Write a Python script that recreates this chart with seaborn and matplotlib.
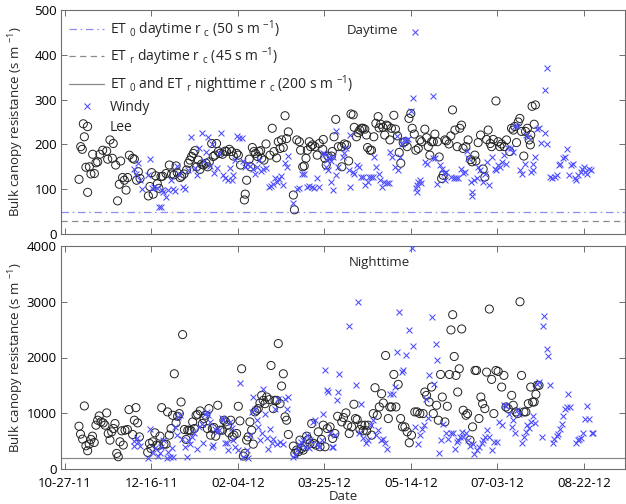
import numpy as np
import pandas as pd
import matplotlib
matplotlib.use("Agg")
import matplotlib.pyplot as plt
import seaborn as sns
from matplotlib.lines import Line2D

# ---------------- data (days since 10-27-11, values in s m^-1) ----------------
START = "2011-10-27"
tick_labels = ["10-27-11", "12-16-11", "02-04-12", "03-25-12", "05-14-12", "07-03-12", "08-22-12"]

et0_day_rc = 50      # ET0 daytime rc line
etr_day_rc = 30      # ETr daytime rc line (as drawn)
night_rc = 200       # nighttime rc line

# Daytime, Lee
lee_day_d = [
    8.1, 9.1, 10, 10.6, 11.2, 12.1, 13.1, 14.1, 15, 16,
    17, 17.9, 18.9, 20.2, 21.8, 24.1, 24.7, 26, 27.4, 27.9,
    29.3, 30.4, 31.4, 32.2, 33.3, 34.3, 35.3, 36.2, 37.2, 39.1,
    40.1, 41.4, 42.4, 43.4, 48.2, 49.1, 50.1, 51, 52.4, 53.4,
    54.3, 55.5, 56.4, 58.4, 60.3, 61.6, 63, 64.2, 64.9, 66.5,
    67.4, 68.8, 70.3, 71.3, 72.2, 73.2, 74.2, 75.1, 76.1, 77.1,
    78, 79, 80, 81.5, 82.5, 83.4, 84.8, 85.7, 86.7, 87.6,
    88.6, 89.6, 91.1, 92.5, 93.4, 95, 96.3, 97.3, 99.2, 100.2,
    101.5, 103.7, 104.2, 105, 106.5, 107.3, 108.3, 109.2, 110.2, 111.3,
    112.1, 113.1, 113.7, 115, 116.2, 118.5, 119.8, 120.8, 122.3, 123.3,
    124.3, 125.2, 126.2, 127.2, 128.1, 129.1, 132, 132.6, 134, 135.5,
    136.2, 137.4, 138.3, 139.3, 140.1, 141.2, 142, 143.1, 144.5, 145.8,
    147,
    149, 149.3, 150.2, 151, 152, 154, 154.5, 155.5, 156.5, 158,
    159.9, 160, 161.5, 162.8, 164, 165.3, 166.6, 167.2, 168.5, 169.5,
    170.4, 171.4, 172.3, 173.3, 174.3, 174.9, 176.3, 177.2, 178.5, 179.7,
    181, 181.6, 182.5, 183.8, 184.8, 185.8, 186.7, 187.8, 188.7, 190.1,
    191, 192.2, 193.2, 194.1, 195.5, 196.5, 197.8, 198.8, 199.9, 200.7,
    201.9, 202.8, 204.2, 205.2, 206.1, 208, 209, 210, 210.9, 211.9,
    212.9, 213.8, 215.3, 216.3, 217.7, 218.6, 219.6, 220.5, 221.9, 223,
    224, 225.4, 226.7, 228.2, 229.2, 230.1, 231.7, 233, 234.4, 235.3,
    236.9, 237.5, 238.8, 240.2, 241.7, 242.7, 243.7, 244.6, 245.8, 246.6,
    247.5, 249.1, 250.4, 251.4, 252.3, 253.9, 255.2, 257.1, 258.1, 259.1,
    260, 261, 262, 262.9, 263.9, 265.2, 266.2, 267.3, 268.3, 269,
    269.2, 270, 271.2, 271.9,
]
lee_day_v = [
    122, 195, 189, 246, 217, 149, 93, 150, 134, 178,
    135, 159, 161, 178, 187, 185, 167, 210, 169, 202,
    154, 74, 111, 163, 126, 120, 98, 126, 176, 169,
    167, 120, 139, 124, 85, 106, 137, 89, 130, 112,
    102, 128, 129, 135, 154, 134, 132, 152, 137, 126,
    129, 134, 143, 158, 165, 173, 180, 186, 150, 165,
    144, 156, 154, 158, 150, 161, 202, 173, 176, 202,
    184, 180, 178, 185, 184, 189, 184, 174, 180, 176,
    154, 76, 89, 120, 167, 150, 193, 184, 180, 173,
    184, 186, 169, 165, 201, 176, 236, 184, 170, 206,
    191, 210, 193, 264, 213, 228, 87, 54, 210, 206,
    187, 150, 152, 169, 187, 206, 195, 199, 195, 176,
    202,
    189, 211, 169, 154, 174, 174, 184, 217, 256, 195,
    195, 150, 201, 199, 163, 268, 266, 238, 217, 226,
    232, 236, 236, 234, 221, 193, 187, 187, 217, 247,
    262, 237, 245, 238, 221, 243, 241, 210, 236, 265,
    234, 219, 182, 158, 204, 206, 195, 258, 269, 236,
    223, 187, 191, 210, 206, 234, 215, 195, 176, 206,
    206, 223, 206, 172, 124, 131, 210, 208, 201, 219,
    277, 232, 195, 236, 243, 191, 195, 210, 166, 161,
    176, 163, 204, 221, 145, 127, 211, 232, 202, 195,
    211, 297, 206, 195, 201, 195, 210, 184, 236, 232,
    240, 204, 250, 258, 229, 174, 229, 236, 210, 199,
    221, 285, 245, 288,
]

# Daytime, Windy
windy_day_d = [
    39.9, 41, 42.4, 43.4, 44.3, 48.2, 49.1, 50.1, 51.4, 53,
    54.5, 55.3, 55.8, 56.8, 58.4, 59.7, 61.3, 62.2, 63.6, 64.9,
    66.1, 68, 69.4, 71.3, 72.8, 75.1, 76.1, 77.6, 79, 80.5,
    81.5, 82.9, 83.8, 85.2, 86.3, 87.6, 88.9, 90.2, 91.5, 92.5,
    94.4, 95.4, 96.3, 97.3, 98.3, 99.2, 100.8, 102.1, 102.7, 104,
    105.4, 106.9, 108.5, 109.8, 110.8, 112.3, 113.3, 114.6, 116.2, 118.1,
    119, 120.4, 121.4, 122.7, 123.9, 124.7, 125.9, 127.2, 128.1, 129.1,
    132, 134.3, 135.5, 136.8, 138.3, 139.7, 141.2, 142.6, 143.9, 145.5,
    147,
    149.3, 150.2, 151, 151.5, 152, 152.6, 154, 154, 154.9, 154.9,
    156.4, 156.9, 157.7, 160.6, 161.5, 162.5, 164, 164.6, 164.8, 166.4,
    167.3, 168.6, 169.8, 171.1, 172.5, 173.6, 175, 176, 176.9, 177.9,
    178.8, 179.8, 181.3, 182.3, 183.2, 184.6, 185.9, 187, 188, 189.3,
    190.7, 191.8, 192.7, 193.7, 194.6, 196, 197.4, 198.5, 199.8, 201.2,
    202.6, 202.7, 203.2, 203.6, 204.2, 205.2, 205.7, 208, 209, 212.9,
    212.9, 213.8, 215.3, 216.7, 217.7, 219, 219.6, 220.5, 223.4, 225,
    226.3, 227.3, 228.8, 229.8, 231.2, 232.1, 233, 234.6, 235, 235.4,
    236.6, 238, 239, 239.9, 241.4, 242.7, 243.7, 245.2, 246.6, 248.4,
    249.3, 250.4, 251.4, 252.7, 253.9, 255.2, 256.2, 257.7, 259.1, 260,
    261, 262.9, 264.2, 265.7, 266.7, 267.7, 269.2, 270.5, 270.5, 271.9,
    273, 274, 275.3, 277.3, 277.3, 278.6, 278.8, 280.1, 281.5, 283,
    284.6, 285.5, 285.9, 287.9, 288.8, 290.3, 291.1, 292.7, 293.6, 294.6,
    295.5, 296.5, 298, 298.8, 300, 300.7, 301.9, 302.7, 303.8,
]
windy_day_v = [
    144, 135, 159, 120, 100, 132, 167, 102, 106, 102,
    61, 60, 98, 94, 82, 98, 120, 100, 97, 152,
    135, 104, 100, 143, 217, 147, 132, 191, 226, 163,
    184, 216, 152, 202, 137, 147, 180, 226, 132, 126,
    120, 147, 120, 132, 165, 219, 214, 214, 164, 149,
    156, 152, 144, 135, 150, 165, 141, 144, 147, 106,
    107, 112, 126, 117, 122, 129, 109, 159, 149, 173,
    70, 100, 102, 135, 135, 106, 107, 104, 102, 126,
    106,
    181, 178, 150, 166, 143, 172, 164, 117, 172, 98,
    131, 230, 150, 172, 180, 191, 143, 221, 105, 139,
    135, 154, 150, 128, 128, 109, 116, 128, 128, 128,
    172, 150, 135, 120, 104, 116, 114, 113, 184, 172,
    150, 219, 143, 172, 202, 210, 210, 211, 274, 303,
    452, 102, 94, 109, 116, 120, 113, 161, 157, 309,
    169, 169, 111, 154, 146, 137, 120, 139, 128, 126,
    124, 124, 144, 137, 139, 185, 169, 116, 85, 94,
    120, 124, 150, 143, 116, 135, 161, 109, 172, 146,
    143, 154, 150, 161, 176, 157, 191, 191, 184, 241,
    240, 143, 135, 157, 221, 217, 139, 157, 143, 172,
    234, 236, 204, 226, 322, 370, 201, 128, 124, 128,
    131, 154, 157, 169, 172, 189, 131, 154, 157, 124,
    120, 131, 139, 146, 150, 139, 135, 146, 143,
]

# Nighttime, Lee
lee_night_d = [
    8.1, 9, 10.2, 11.2, 12.1, 13.1, 14, 15, 15.9, 16.9,
    17.9, 18.9, 19.8, 20.8, 22.1, 23.1, 24.1, 25, 26, 27,
    28, 28.9, 29.9, 30.8, 31.8, 32.8, 33.7, 34.7, 36.1, 37,
    39.1, 40.1, 41, 42, 43, 47.8, 48.8, 49.7, 50.7, 52,
    53, 54, 54.9, 55.9, 57.2, 58.4, 59.3, 60.3, 61.3, 62.2,
    63.2, 64.2, 65.1, 66.1, 67.1, 68, 69, 70, 71, 71.9,
    72.9, 73.8, 74.8, 75.8, 76.7, 78.1, 79.4, 80.4, 81.3, 82.3,
    83.2, 84.2, 85.2, 86.1, 87.1, 88.3, 89.6, 91, 91.9, 92.9,
    93.9, 94.8, 95.8, 96.7, 97.7, 99.2, 100.2, 101.1, 102.1, 103.1,
    104, 105, 105.9, 106.9, 107.9, 108.8, 109.8, 110.8, 111.7, 112.7,
    113.7, 114.6, 115.6, 116.6, 118.1, 119.1, 120.4, 121.4, 122.4, 123.3,
    124.3, 125.2, 126.2, 127.2, 128.1, 129.1, 132, 132.9, 133.9, 134.9,
    135.8, 136.8, 137.7, 138.7, 139.7, 140.6, 141.6, 142.6, 143.9, 145,
    146.4, 147.4, 148.3, 149.3, 150.3, 151.6, 153.2, 154.7, 156, 157.6,
    160, 161, 162.4, 163.4, 164.3, 165.7, 167, 167.9, 168.9, 170.5,
    171.5, 172.4, 173.4, 174.4, 175.3, 177.3, 178.2, 179.2, 180.5, 181.7,
    183, 184, 185.3, 186.9, 187.8, 188.8, 190.1, 191.3, 192.6, 194,
    195.1, 196.5, 197.8, 199, 200.3, 202.2, 203.6, 205.1, 207, 208,
    209, 210.5, 211.9, 212.9, 214.8, 215.8, 217.1, 218.1, 219.6, 221,
    222.2, 223.1, 224.1, 225, 226, 227, 227.9, 229.3, 230.2, 231.8,
    232.7, 234.1, 235.6, 237, 237.9, 239.3, 240.4, 241.4, 242.7, 243.7,
    245.3, 246.6, 247.9, 249.1, 250.4, 252.4, 253.7, 254.9, 256.2, 258.2,
    259.1, 260.7, 261.6, 263, 263.9, 265.3, 266.4, 267.8, 269.2, 270.3,
    271.2, 272.2, 273, 274,
]
lee_night_v = [
    768, 625, 536, 1131, 417, 327, 446, 530, 589, 476,
    786, 875, 952, 845, 827, 786, 1006, 637, 518, 667,
    726, 815, 280, 220, 488, 685, 429, 696, 708, 1065,
    619, 875, 1101, 827, 577, 298, 458, 369, 488, 649,
    429, 417, 589, 1101, 446, 446, 1024, 607, 726, 964,
    1708, 827, 946, 994, 1202, 2411, 708, 530, 696, 696,
    685, 845, 726, 964, 982, 1042, 815, 905, 964, 726,
    1083, 607, 726, 744, 589, 1143, 696, 696, 875, 845,
    786, 649, 875, 577, 607, 637, 1125, 863, 1798, 232,
    280, 518, 577, 845, 696, 446, 1024, 1054, 1083, 1184,
    1321, 1232, 1172, 1291, 1244, 1857, 1083, 1232, 1232, 2250,
    1172, 1488, 1708, 935, 875, 619, 411, 280, 339, 310,
    518, 369, 339, 399, 589, 530, 458, 815, 458, 429,
    667, 399, 530, 786, 399, 726, 756, 548, 637, 946,
    845, 923, 1006, 786, 637, 756, 1161, 905, 887, 708,
    786, 685, 786, 685, 786, 607, 994, 1458, 964, 1113,
    1351, 1184, 2036, 905, 1113, 1113, 1696, 1113, 1518, 905,
    756, 756, 667, 470, 607, 1024, 1024, 994, 994, 1381,
    1321, 1202, 1470, 994, 1143, 875, 1696, 1291, 845, 1125,
    1696, 2494, 2768, 2018, 1679, 1381, 1798, 2512, 1054, 964,
    994, 518, 756, 1768, 1768, 905, 1291, 1172, 1083, 1738,
    2869, 1607, 994, 1768, 1750, 1470, 1679, 1113, 1083, 1321,
    1143, 1024, 994, 3000, 1679, 1024, 1024, 1172, 1470, 1202,
    1202, 1339, 1500, 1500,
]

# Nighttime, Windy
windy_night_d = [
    40.1, 40.1, 41.4, 42.4, 43.4, 48.2, 49.3, 51, 52, 54,
    54.9, 55.5, 56.9, 58.8, 59.7, 60.7, 61.6, 62.6, 63.5, 64.5,
    65.4, 66.3, 67.9, 69.4, 70.3, 71.3, 72.2, 73.6, 74.6, 76.1,
    77.6, 79, 79.9, 80.9, 81.9, 82.8, 83.8, 84.7, 85.7, 86.7,
    87.6, 89.2, 90.5, 91.5, 92.5, 93.4, 94.4, 95.4, 96.3, 97.3,
    98.3, 99.8, 101.1, 103.1, 105, 105.9, 106.9, 107.9, 108.8, 109.8,
    110.8, 111.7, 112.7, 113.7, 114.6, 115.6, 116.6, 117.5, 118.5, 119.5,
    120.4, 121.4, 122.4, 123.3, 124.3, 125.8, 127.2, 128.1, 129.1, 131.6,
    132.9, 134.3, 135.4, 136.4, 137.7, 138.7, 139.7, 141, 141.9, 143.1,
    144.5, 145.8, 147, 148.3, 149.3, 150.3, 151.2, 152.2, 153.2, 154.1,
    155.1, 156, 157, 157.6, 158.4, 164.3, 168.2, 169.2, 170.1, 171.1,
    172.4, 174, 175.3, 176.7, 178.2, 179.7, 181.1, 182.5, 183.6, 185,
    186.3, 187.8, 189.4, 190.7, 192, 193.2, 194.6, 195.5, 197.1, 199,
    200.4, 200.9, 202.2, 203.8, 205.1, 206.5, 207.6, 208.6, 209.6, 210.5,
    211.9, 213.3, 214.4, 215.2, 216.4, 217.1, 218.7, 220.2, 221.6, 222.9,
    224.5, 225.4, 226.4, 227.4, 228.3, 229.3, 230.2, 231.8, 232.7, 234.1,
    235.6, 236.6, 237.9, 239.5, 240.8, 241.8, 242.7, 243.7, 245.3, 246.6,
    247.9, 249.5, 251, 252.4, 253.7, 255.2, 256.8, 258.2, 259.1, 260.1,
    261.1, 262.6, 263.9, 265.3, 266.4, 267.2, 268.4, 269.4, 270.7, 271.7,
    273, 274.2, 275.5, 276.1, 277.1, 278.4, 279.4, 280.4, 281.9, 282.9,
    284.2, 285.2, 286.2, 287.1, 288.1, 289, 290, 291, 291.9, 295.4,
    296.4, 297.3, 298.3, 299.6, 300.6, 301.6, 303.1, 304.5, 305.4,
]
windy_night_v = [
    500, 411, 548, 488, 411, 190, 726, 280, 369, 232,
    280, 387, 518, 190, 310, 220, 369, 220, 756, 607,
    935, 964, 530, 387, 220, 518, 446, 577, 637, 351,
    756, 804, 458, 994, 1024, 964, 845, 399, 429, 726,
    667, 696, 923, 875, 458, 458, 339, 845, 744, 518,
    387, 339, 1547, 220, 339, 190, 607, 1024, 1291, 1083,
    875, 756, 518, 637, 1428, 994, 548, 351, 726, 458,
    530, 1083, 446, 1261, 488, 446, 1261, 1083, 1291, 220,
    250, 339, 429, 488, 518, 399, 607, 369, 518, 845,
    875, 446, 399, 518, 994, 1768, 1410, 1381, 637, 399,
    399, 607, 1232, 1381, 1708, 2571, 1500, 2988, 649, 1172,
    548, 458, 518, 786, 875, 607, 708, 518, 530, 470,
    351, 1339, 1339, 1470, 2095, 2810, 1738, 1768, 2036, 2500,
    3970, 2208, 756, 446, 607, 726, 786, 1261, 923, 1679,
    2720, 1518, 2238, 1952, 292, 518, 815, 637, 530, 637,
    637, 351, 488, 518, 577, 667, 577, 637, 518, 411,
    446, 268, 339, 399, 458, 518, 577, 696, 577, 339,
    488, 488, 845, 786, 1143, 1125, 994, 756, 875, 649,
    1054, 994, 458, 577, 667, 786, 744, 845, 946, 827,
    1518, 1560, 577, 2571, 2738, 2155, 2024, 1500, 458, 530,
    589, 625, 726, 815, 946, 1083, 1113, 1339, 1113, 458,
    518, 530, 548, 637, 905, 1125, 905, 637, 649,
]

# ---------------- helpers ----------------
t0 = pd.Timestamp(START)


def frame(days, vals):
    n = min(len(days), len(vals))
    return pd.DataFrame({
        "date": t0 + pd.to_timedelta(np.asarray(days[:n], float), unit="D"),
        "rc": np.asarray(vals[:n], float),
    })


lee_day = frame(lee_day_d, lee_day_v)
windy_day = frame(windy_day_d, windy_day_v)
lee_night = frame(lee_night_d, lee_night_v)
windy_night = frame(windy_night_d, windy_night_v)

# ---------------- style ----------------
sns.set_theme(style="white")
FONT = ["Open Sans", "DejaVu Sans"]
plt.rcParams["font.family"] = FONT
plt.rcParams["mathtext.fontset"] = "custom"
plt.rcParams["mathtext.rm"] = "Open Sans"
plt.rcParams["mathtext.it"] = "Open Sans"
plt.rcParams["mathtext.default"] = "regular"

SPINE = "#6e6e6e"
WINDY = "#4b4bff"
LINEBLUE = "#8c8cf2"
LINEGRAY = "#8a8a8a"
FS = 9.5

fig = plt.figure(figsize=(6.26, 5.04), dpi=100)
W, H = 626.0, 504.0
ax1 = fig.add_axes([61 / W, 1 - 234 / H, (625 - 61) / W, (234 - 10) / H])
ax2 = fig.add_axes([61 / W, 1 - 469 / H, (625 - 61) / W, (469 - 246) / H])

xmin = t0 + pd.Timedelta(days=-2.3)
xmax = t0 + pd.Timedelta(days=323.7)
tick_dates = pd.to_datetime(tick_labels, format="%m-%d-%y")

for ax in (ax1, ax2):
    sns.scatterplot(data=windy_day if ax is ax1 else windy_night, x="date", y="rc",
                    ax=ax, marker="x", color=WINDY, s=18, linewidth=0.75, zorder=3)
    sns.scatterplot(data=lee_day if ax is ax1 else lee_night, x="date", y="rc",
                    ax=ax, marker="o", facecolor="none", edgecolor="#222222",
                    s=34, linewidth=0.7, zorder=2)
    ax.set_xlim(xmin, xmax)
    ax.set_xticks(tick_dates)
    for s in ax.spines.values():
        s.set_visible(True)
        s.set_color(SPINE)
        s.set_linewidth(0.8)
    ax.tick_params(direction="in", length=4, width=0.7, color=SPINE,
                   top=True, right=True, bottom=True, left=True,
                   labelsize=FS, labelcolor="black", pad=3)
    ax.set_ylabel("Bulk canopy resistance (s m $^{-1}$)", fontsize=FS)
    ax.yaxis.set_label_coords(-0.062, 0.5)
    ax.grid(False)

ax2.tick_params(axis="x", pad=6)

# daytime panel
ax1.axhline(et0_day_rc, color=LINEBLUE, linestyle=(0, (6, 3, 1.2, 3)), linewidth=0.9, zorder=1)
ax1.axhline(etr_day_rc, color=LINEGRAY, linestyle=(0, (5, 3.5)), linewidth=0.9, zorder=1)
ax1.set_ylim(0, 500)
ax1.set_yticks([0, 100, 200, 300, 400, 500])
ax1.set_xticklabels([])
ax1.set_xlabel("")
ax1.text(0.553, 0.91, "Daytime", transform=ax1.transAxes, ha="center", va="center", fontsize=FS)

# nighttime panel
ax2.axhline(night_rc, color=LINEGRAY, linestyle="-", linewidth=0.9, zorder=1)
ax2.set_ylim(0, 4000)
ax2.set_yticks([0, 1000, 2000, 3000, 4000])
ax2.set_xticklabels(tick_labels)
ax2.set_xlabel("Date", fontsize=FS, labelpad=0)
ax2.text(0.564, 0.928, "Nighttime", transform=ax2.transAxes, ha="center", va="center", fontsize=FS)

handles = [
    Line2D([], [], color=LINEBLUE, linestyle=(0, (6, 3, 1.2, 3)), linewidth=0.9),
    Line2D([], [], color=LINEGRAY, linestyle=(0, (5, 3.5)), linewidth=0.9),
    Line2D([], [], color=LINEGRAY, linestyle="-", linewidth=0.9),
    Line2D([], [], color=WINDY, marker="x", linestyle="none", markersize=4.5, markeredgewidth=0.75),
    Line2D([], [], color="#222222", marker="o", markerfacecolor="none", linestyle="none",
           markersize=6, markeredgewidth=0.7),
]
labels = [
    "ET $_0$ daytime r $_c$ (50 s m $^{-1}$)",
    "ET $_r$ daytime r $_c$ (45 s m $^{-1}$)",
    "ET $_0$ and ET $_r$ nighttime r $_c$ (200 s m $^{-1}$)",
    "Windy",
    "Lee",
]
ax1.legend(handles, labels, loc="upper left", frameon=False, fontsize=10,
           handlelength=2.5, handletextpad=0.4, labelspacing=0.34,
           borderaxespad=0.2, borderpad=0.4)

fig.savefig("out.png", dpi=100)
